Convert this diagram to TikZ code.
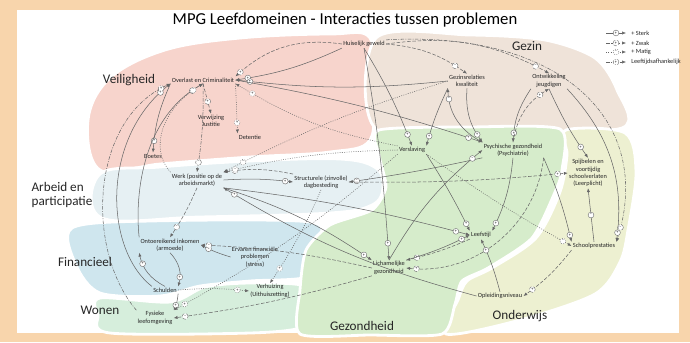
\documentclass[tikz,border=0pt]{standalone}
\usepackage{fontspec}
\setmainfont{Carlito}
\usetikzlibrary{arrows.meta}
\begin{document}
\begin{tikzpicture}[x=0.02cm, y=-0.02cm,
    prob/.style={font=\fontsize{3.6}{4.2}\selectfont, align=center, inner sep=0.6pt, text=black!85},
    gebied/.style={font=\fontsize{7.5}{8.5}\selectfont, text=black!85, align=left},
    sgn/.style={circle, draw=black!55, fill=white, line width=0.25pt, inner sep=0pt, minimum size=3.3pt, font=\fontsize{2.4}{2.4}\selectfont},
    rel/.style={draw=black!60, line width=0.3pt, -{Latex[length=2.2pt,width=1.8pt]}},
    zwak/.style={dash pattern=on 2pt off 1pt},
    matig/.style={dash pattern=on 0.5pt off 0.8pt},
    leeft/.style={dash pattern=on 2pt off 0.8pt on 0.5pt off 0.8pt},
    blob/.style={draw=white, line width=1.6pt}]
    \def\rel#1#2#3#4#5#6{\draw[rel,#3] (#1) to[#4] node[sgn,pos=#6]{#5} (#2);}
    \definecolor{frame-peach}{HTML}{F8D5AC}
    \definecolor{veilig}{HTML}{F7D4CC}
    \definecolor{gezin}{HTML}{EFE3D9}
    \definecolor{arbeid}{HTML}{E6F0F3}
    \definecolor{financ}{HTML}{CFE6EE}
    \definecolor{wonen}{HTML}{D6EEDC}
    \definecolor{gezond}{HTML}{D6ECCB}
    \definecolor{onderw}{HTML}{EDF0D1}
    \useasboundingbox (0,0) rectangle (690,342);
    % frame
    \fill[frame-peach] (0,0) rectangle (690,342);
    \fill[white] (17,10) rectangle (679,333);
    % domains
    \filldraw[blob, fill=veilig] plot[smooth cycle, tension=0.6] coordinates
      {(88,120) (110,78) (165,50) (240,38) (330,34) (370,38) (372,90) (370,140) (330,152) (250,157) (160,164) (100,170)};
    \filldraw[blob, fill=gezin] plot[smooth cycle, tension=0.5] coordinates
      {(376,38) (470,35) (545,40) (595,58) (617,90) (622,128) (500,131) (377,130)};
    \filldraw[blob, fill=arbeid] plot[smooth cycle, tension=0.6] coordinates
      {(100,174) (160,167) (250,161) (340,159) (376,168) (383,188) (372,205) (330,213) (200,217) (102,218)};
    \filldraw[blob, fill=financ] plot[smooth cycle, tension=0.5] coordinates
      {(72,228) (150,221) (310,222) (316,245) (310,276) (250,281) (200,286) (160,296) (100,293) (76,265)};
    \filldraw[blob, fill=wonen] plot[smooth cycle, tension=0.5] coordinates
      {(100,298) (170,302) (205,287) (250,283) (305,286) (312,308) (303,327) (250,333) (110,333) (98,315)};
    \filldraw[blob, fill=onderw] plot[smooth cycle, tension=0.5] coordinates
      {(566,130) (625,133) (636,172) (628,230) (620,262) (595,294) (520,320) (446,334) (458,300) (467,281) (492,268) (536,238) (560,192) (567,155)};
    \filldraw[blob, fill=gezond] plot[smooth cycle, tension=0.4] coordinates
      {(379,130) (470,127) (560,129) (562,170) (555,192) (532,238) (488,268) (462,281) (455,304) (442,334) (370,335) (300,334) (300,290) (306,250) (330,225) (372,210) (386,187) (379,155)};
    % title and domain names
    \node (titel) at (345,20) {\fontsize{9.5}{10}\selectfont MPG Leefdomeinen - Interacties tussen problemen};
    \node[gebied] (g-veilig) at (129,80) {Veiligheid};
    \node[gebied] (g-gezin) at (527,46) {Gezin};
    \node[gebied] (g-arbeid) at (62,195) {Arbeid en\\participatie};
    \node[gebied] (g-financ) at (85,262) {Financieel};
    \node[gebied] (g-wonen) at (100,310) {Wonen};
    \node[gebied] (g-gezond) at (362,326) {Gezondheid};
    \node[gebied] (g-onderw) at (520,316) {Onderwijs};
    % problems
    \node[prob] (geweld) at (364,44) {Huiselijk geweld};
    \node[prob] (overlast) at (203,80) {Overlast en Criminaliteit};
    \node[prob] (justitie) at (211,121) {Verwijzing\\Justitie};
    \node[prob] (detentie) at (250,137) {Detentie};
    \node[prob] (boetes) at (153,156) {Boetes};
    \node[prob] (relaties) at (467,81) {Gezinsrelaties\\kwaliteit};
    \node[prob] (ontwikkeling) at (549,81) {Ontwikkeling\\jeugdigen};
    \node[prob] (werk) at (197,180) {Werk (positie op de\\arbeidsmarkt)};
    \node[prob] (dagbesteding) at (321,182) {Structurele (zinvolle)\\dagbesteding};
    \node[prob] (inkomen) at (170,245) {Ontoereikend inkomen\\(armoede)};
    \node[prob] (ervaren) at (255,257) {Ervaren financi\"ele\\problemen\\(stress)};
    \node[prob] (schulden) at (165,290) {Schulden};
    \node[prob] (verhuizing) at (270,291) {Verhuizing\\(Uithuiszetting)};
    \node[prob] (leefomgeving) at (155,318) {Fysieke\\leefomgeving};
    \node[prob] (verslaving) at (412,150) {Verslaving};
    \node[prob] (psyche) at (513,150) {Psychische gezondheid\\(Psychiatrie)};
    \node[prob] (spijbelen) at (588,173) {Spijbelen en\\voortijdig\\schoolverlaten\\(Leerplicht)};
    \node[prob] (leefstijl) at (481,235) {Leefstijl};
    \node[prob] (prestaties) at (594,246) {Schoolprestaties};
    \node[prob] (lichaam) at (389,268) {Lichamelijke\\gezondheid};
    \node[prob] (opleiding) at (500,296) {Opleidingsniveau};
    % legend
    \foreach \y/\st/\s/\t in {33/solid/+/{+ Sterk}, 43/zwak/+/{+ Zwak}, 52/matig/--/{+ Matig}, 62/leeft/+/{Leeftijdsafhankelijk}}{
      \coordinate (lg-a\y) at (606,\y);
      \coordinate (lg-b\y) at (626,\y);
      \draw[rel,\st] (lg-a\y) -- node[sgn]{\s} (lg-b\y);
      \node[prob, anchor=west] (lg-t\y) at (630,\y) {\t};
    }
    % relations: gezin
    \rel{geweld.west}{overlast.north east}{zwak}{bend right=25}{+}{0.95}
    \rel{geweld.south west}{overlast.east}{}{bend left=8}{+}{0.9}
    \rel{relaties.west}{overlast.east}{}{bend left=6}{+}{0.94}
    \rel{verslaving.north west}{overlast.south east}{matig}{bend left=10}{+}{0.9}
    \rel{geweld.east}{relaties.north}{zwak}{bend left=15}{--}{0.85}
    \rel{geweld.east}{ontwikkeling.north}{zwak}{bend left=18}{--}{0.92}
    \draw[rel,leeft] (geweld.north east) .. controls (560,30) and (655,120) .. (prestaties.north east) node[sgn,pos=0.96]{--};
    \rel{geweld.south}{verslaving.north}{}{bend left=5}{+}{0.9}
    \rel{geweld.south}{lichaam.north}{}{bend left=3}{+}{0.93}
    \rel{relaties.west}{werk.north east}{matig}{bend right=5}{--}{0.92}
    \rel{relaties.south west}{verslaving.north east}{}{bend right=5}{+}{0.85}
    \rel{relaties.south}{psyche.north west}{}{bend right=20}{+}{0.85}
    \rel{psyche.north west}{relaties.south west}{}{bend left=30}{--}{0.85}
    \rel{ontwikkeling.south west}{psyche.north}{}{bend right=15}{+}{0.85}
    \rel{psyche.north}{ontwikkeling.south}{zwak}{bend left=25}{+}{0.85}
    \rel{ontwikkeling.south}{spijbelen.north}{}{bend right=5}{+}{0.85}
    \rel{ontwikkeling.south east}{prestaties.north east}{}{bend left=25}{+}{0.95}
    % relations: veiligheid
    \rel{overlast.south}{justitie.north}{zwak}{bend left=0}{+}{0.6}
    \rel{overlast.south east}{detentie.north west}{matig}{bend left=0}{+}{0.8}
    \rel{overlast.south west}{boetes.north}{}{bend right=10}{+}{0.85}
    \rel{overlast.south}{werk.north}{leeft}{bend left=5}{--}{0.9}
    \rel{overlast.east}{psyche.north west}{}{bend left=4}{+}{0.95}
    \draw[rel] (schulden.north west) .. controls (105,250) and (100,140) .. (overlast.south west) node[sgn,pos=0.95]{+};
    \draw[rel,leeft] (leefomgeving.north west) .. controls (85,250) and (90,120) .. (overlast.south west) node[sgn,pos=0.96]{+};
    \draw[rel] (inkomen.north west) .. controls (135,200) and (140,120) .. (overlast.south) node[sgn,pos=0.94]{+};
    \draw[rel,matig] (werk.north west) .. controls (150,150) and (160,110) .. (overlast.south) node[sgn,pos=0.92]{--};
    % relations: arbeid en financieel
    \rel{werk.south}{inkomen.north}{zwak}{bend left=5}{--}{0.8}
    \rel{werk.east}{dagbesteding.west}{}{bend left=5}{+}{0.9}
    \rel{dagbesteding.north west}{werk.north east}{zwak}{bend right=10}{+}{0.85}
    \rel{verslaving.west}{werk.north east}{matig}{bend right=6}{--}{0.94}
    \rel{werk.south east}{lichaam.north west}{}{bend left=8}{+}{0.95}
    \rel{werk.south east}{leefstijl.west}{}{bend left=4}{+}{0.95}
    \rel{psyche.south west}{dagbesteding.east}{}{bend left=2}{--}{0.95}
    \rel{dagbesteding.east}{spijbelen.west}{zwak}{bend right=3}{+}{0.96}
    \rel{dagbesteding.south}{verhuizing.north}{matig}{bend left=5}{+}{0.85}
    \rel{inkomen.south}{schulden.north east}{}{bend left=30}{+}{0.75}
    \rel{schulden.north}{inkomen.south west}{}{bend left=25}{+}{0.75}
    \rel{schulden.south east}{leefomgeving.north east}{}{bend left=10}{+}{0.7}
    \rel{schulden.east}{verhuizing.west}{matig}{bend left=5}{+}{0.85}
    \rel{ervaren.west}{inkomen.east}{}{bend left=5}{+}{0.75}
    \rel{lichaam.west}{inkomen.east}{zwak}{bend right=5}{--}{0.96}
    \rel{lichaam.south west}{leefomgeving.east}{zwak}{bend left=4}{--}{0.95}
    \rel{verslaving.south west}{leefomgeving.north east}{matig}{bend left=6}{+}{0.96}
    % relations: gezondheid en onderwijs
    \rel{verslaving.south east}{leefstijl.north west}{}{bend left=3}{+}{0.92}
    \rel{psyche.south}{leefstijl.north east}{}{bend left=10}{+}{0.9}
    \rel{psyche.south east}{lichaam.east}{zwak}{bend left=45}{+}{0.95}
    \rel{leefstijl.south west}{lichaam.north east}{zwak}{bend left=5}{+}{0.85}
    \rel{lichaam.north east}{leefstijl.west}{}{bend right=5}{+}{0.88}
    \rel{psyche.south east}{prestaties.north west}{}{bend left=5}{+}{0.93}
    \rel{verslaving.south east}{prestaties.west}{matig}{bend right=3}{--}{0.95}
    \rel{prestaties.north}{spijbelen.south}{}{bend left=0}{--}{0.5}
    \rel{prestaties.south west}{opleiding.east}{zwak}{bend left=8}{+}{0.85}
    \rel{opleiding.north}{leefstijl.south}{}{bend right=5}{+}{0.8}
    \rel{opleiding.west}{werk.south east}{}{bend left=8}{+}{0.96}
    \rel{lichaam.north}{psyche.west}{}{bend left=10}{--}{0.92}
\end{tikzpicture}
\end{document}
